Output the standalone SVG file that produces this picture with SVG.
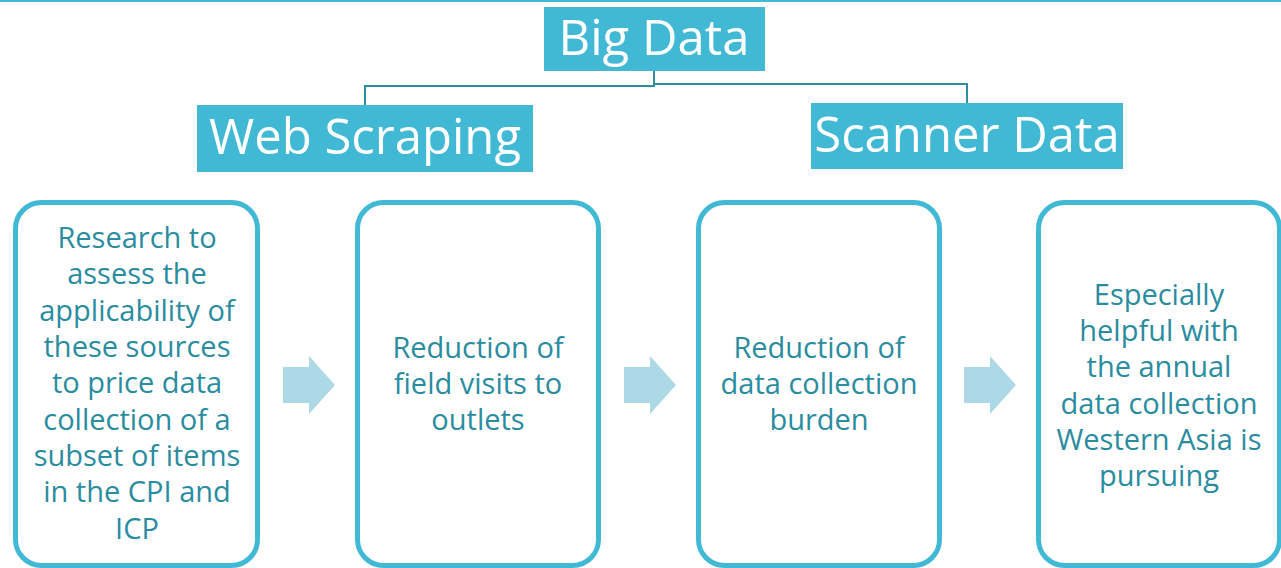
<svg xmlns="http://www.w3.org/2000/svg" width="1281" height="568" viewBox="0 0 1281 568">
<style>
.hdr{fill:#42b9d4}
.hdrt{font-family:"Open Sans","DejaVu Sans",sans-serif;font-size:49px;fill:#ffffff;text-anchor:middle}
.box{fill:#ffffff;stroke:#42b9d4;stroke-width:5}
.bt{font-family:"Open Sans","DejaVu Sans",sans-serif;font-size:29px;fill:#2a8c9f;text-anchor:middle}
.arr{fill:#acd9e5}
.conn{fill:none;stroke:#2e8d9f;stroke-width:2}
</style>
<rect width="1281" height="568" fill="#ffffff"/>
<rect x="0" y="0" width="1281" height="2" fill="#42b9d4"/>
<g id="connectors">
<path class="conn" d="M654,71 V86 H365 V105"/>
<path class="conn" d="M654,84 H967 V103"/>
</g>
<g id="big-data">
<rect class="hdr" x="544" y="7" width="221" height="64"/>
<text class="hdrt" x="654" y="55">Big Data</text>
</g>
<g id="web-scraping">
<rect class="hdr" x="197" y="105" width="336" height="67"/>
<text class="hdrt" x="365" y="154">Web Scraping</text>
</g>
<g id="scanner-data">
<rect class="hdr" x="811" y="103" width="312" height="66"/>
<text class="hdrt" x="967" y="152">Scanner Data</text>
</g>
<g id="box1">
<rect class="box" x="15.5" y="202.5" width="242" height="363" rx="26"/>
<text class="bt" x="137" y="248">Research to</text>
<text class="bt" x="137" y="284">assess the</text>
<text class="bt" x="137" y="321">applicability of</text>
<text class="bt" x="137" y="357">these sources</text>
<text class="bt" x="137" y="393">to price data</text>
<text class="bt" x="137" y="430">collection of a</text>
<text class="bt" x="137" y="466">subset of items</text>
<text class="bt" x="137" y="502">in the CPI and</text>
<text class="bt" x="137" y="539">ICP</text>
</g>
<g id="box2">
<rect class="box" x="357.5" y="202.5" width="241" height="363" rx="26"/>
<text class="bt" x="478" y="358">Reduction of</text>
<text class="bt" x="478" y="394">field visits to</text>
<text class="bt" x="478" y="430">outlets</text>
</g>
<g id="box3">
<rect class="box" x="698.5" y="202.5" width="241" height="363" rx="26"/>
<text class="bt" x="819" y="358">Reduction of</text>
<text class="bt" x="819" y="394">data collection</text>
<text class="bt" x="819" y="430">burden</text>
</g>
<g id="box4">
<rect class="box" x="1038.5" y="202.5" width="241" height="363" rx="26"/>
<text class="bt" x="1159" y="305">Especially</text>
<text class="bt" x="1159" y="341">helpful with</text>
<text class="bt" x="1159" y="377">the annual</text>
<text class="bt" x="1159" y="414">data collection</text>
<text class="bt" x="1159" y="450">Western Asia is</text>
<text class="bt" x="1159" y="486">pursuing</text>
</g>
<g id="arrows">
<polygon class="arr" points="283,367 309,367 309,356 335,385 309,414 309,403 283,403"/>
<polygon class="arr" points="624,367 650,367 650,356 676,385 650,414 650,403 624,403"/>
<polygon class="arr" points="964,367 990,367 990,356 1016,385 990,414 990,403 964,403"/>
</g>
</svg>
